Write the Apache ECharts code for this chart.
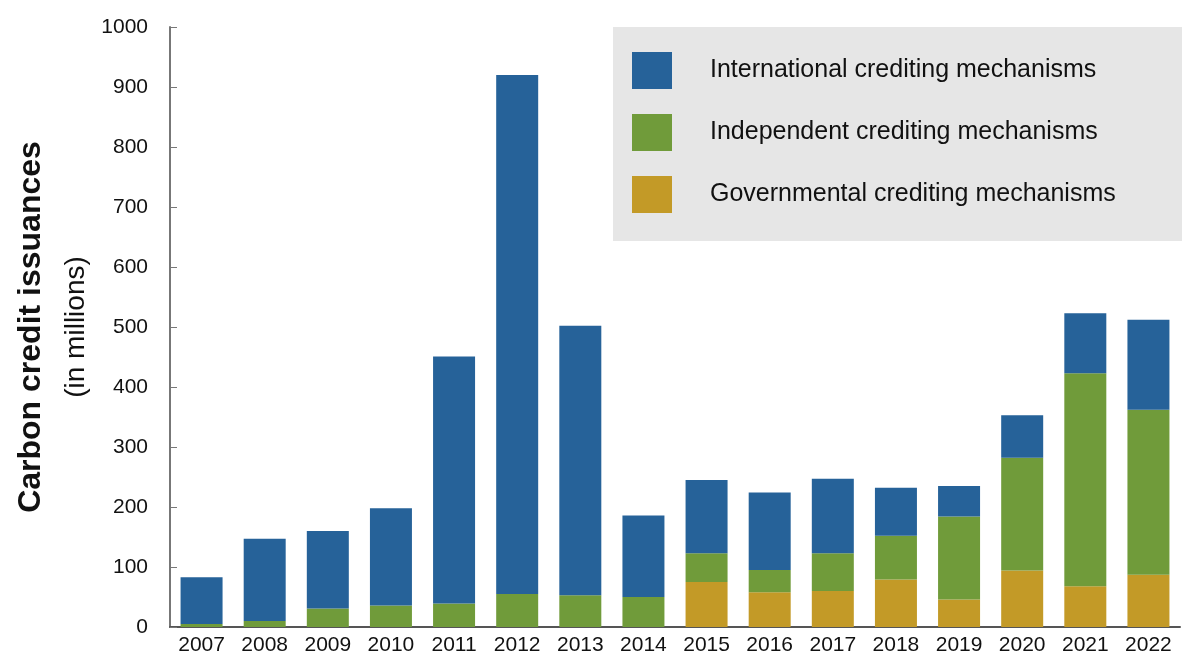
<!DOCTYPE html>
<html>
<head>
<meta charset="utf-8">
<script src="https://cdn.jsdelivr.net/npm/echarts@6/dist/echarts.min.js"></script>
<style>
  html, body { margin: 0; padding: 0; background: #fff; }
  #chart { width: 1182px; height: 661px; }
</style>
</head>
<body>
<div id="chart"></div>
<script>
var years = ['2007','2008','2009','2010','2011','2012','2013','2014','2015','2016','2017','2018','2019','2020','2021','2022'];
var governmental = [0, 0, 0, 0, 0, 0, 0, 0, 75, 58, 60, 79, 46, 94, 68, 87];
var independent = [5, 10, 31, 36, 39, 55, 53, 50, 48, 37, 63, 73, 138, 188, 355, 275];
var international = [78, 137, 129, 162, 412, 865, 449, 136, 122, 129, 124, 80, 51, 71, 100, 150];
var yTicks = [0, 100, 200, 300, 400, 500, 600, 700, 800, 900, 1000];

var font = '"Liberation Sans", Arial, sans-serif';

var chart = echarts.init(document.getElementById('chart'));

// 画一个堆叠柱
function bar(name, data, color) {
  return {
    name: name,
    type: 'bar',
    stack: 'total',
    barWidth: 42,
    data: data,
    itemStyle: { color: color },
    emphasis: { disabled: true }
  };
}

var option = {
  animation: false,
  textStyle: { fontFamily: font },
  grid: { left: 170, right: 2, top: 27, bottom: 34, containLabel: false, outerBoundsMode: 'none' },
  graphic: [{
    type: 'rect',
    left: 613, top: 27,
    shape: { width: 569, height: 214 },
    style: { fill: '#e6e6e6' },
    z: 5
  }],
  legend: {
    orient: 'vertical',
    left: 632,
    top: 52,
    padding: 0,
    z: 10,
    itemWidth: 40,
    itemHeight: 37,
    itemGap: 25,
    icon: 'rect',
    textStyle: { fontFamily: font, fontSize: 25, color: '#111', padding: [0, 0, 0, 33] },
    data: ['International crediting mechanisms', 'Independent crediting mechanisms', 'Governmental crediting mechanisms']
  },
  xAxis: {
    type: 'category',
    data: years,
    axisLine: { lineStyle: { color: '#555', width: 2 } },
    axisTick: { show: false },
    axisLabel: { fontFamily: font, fontSize: 21, color: '#111', margin: 8 }
  },
  yAxis: {
    type: 'value',
    min: yTicks[0],
    max: yTicks[yTicks.length - 1],
    interval: 100,
    name: '{a|Carbon credit issuances}\n{b|(in millions)}',
    nameLocation: 'middle',
    nameRotate: 90,
    nameGap: 71,
    nameTextStyle: {
      rich: {
        a: { fontFamily: font, fontSize: 32, fontWeight: 'bold', color: '#111', lineHeight: 46 },
        b: { fontFamily: font, fontSize: 28, color: '#111', lineHeight: 44 }
      }
    },
    axisLine: { show: true, lineStyle: { color: '#777', width: 2 } },
    axisTick: { show: true, inside: true, length: 7, lineStyle: { color: '#777' } },
    splitLine: { show: false },
    axisLabel: {
      fontFamily: font, fontSize: 21, color: '#111', margin: 22,
      formatter: function (v) { return String(v); }
    }
  },
  series: [
    bar('Governmental crediting mechanisms', governmental, '#c39a27'),
    bar('Independent crediting mechanisms', independent, '#709b3a'),
    bar('International crediting mechanisms', international, '#266299')
  ]
};

chart.setOption(option);
</script>
</body>
</html>
